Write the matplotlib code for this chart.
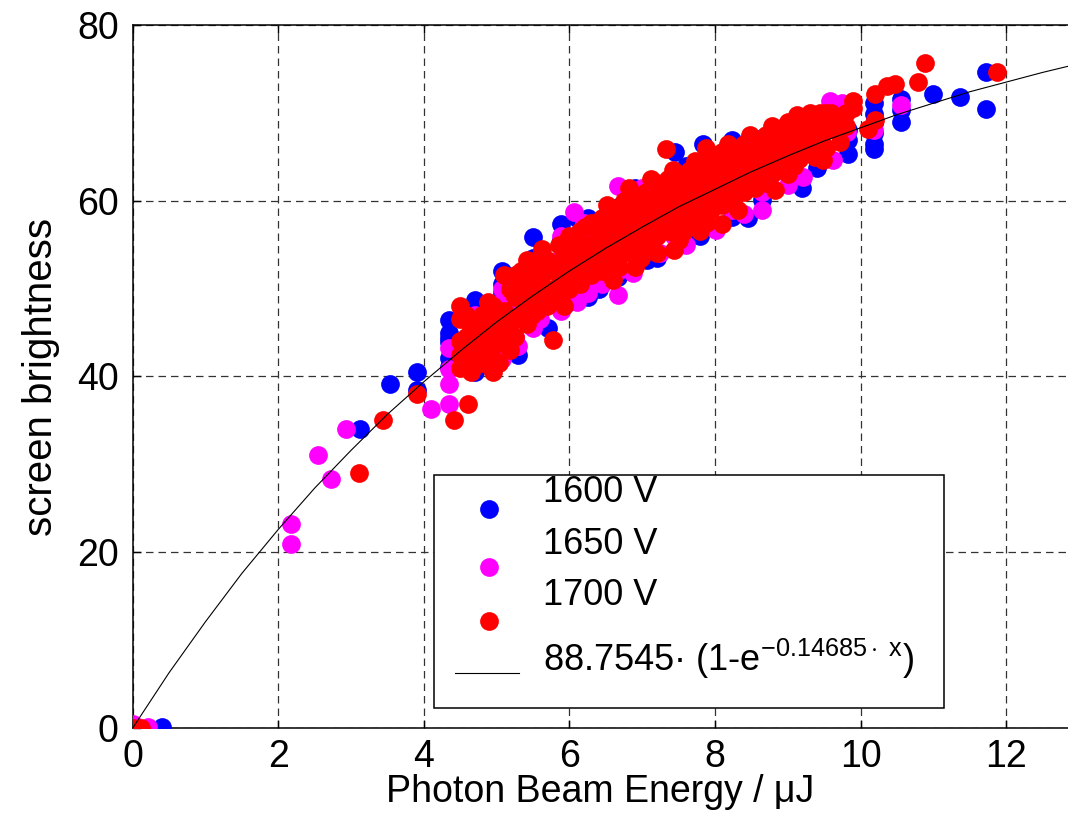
import matplotlib
matplotlib.use("Agg")
import matplotlib.pyplot as plt
from matplotlib.patches import Rectangle

plt.rcParams['font.family'] = ['Liberation Sans', 'DejaVu Sans']
plt.rcParams['mathtext.fontset'] = 'custom'
plt.rcParams['mathtext.rm'] = 'Liberation Sans'
plt.rcParams['mathtext.it'] = 'Liberation Sans'
plt.rcParams['mathtext.bf'] = 'Liberation Sans'

# 1600 V
blue_x = [0.40, 3.12, 3.53, 3.90, 3.90,
          4.34, 4.34, 4.34, 4.34, 4.34, 4.34,
          4.70, 4.70, 4.70, 4.70, 4.70, 4.70, 4.70,
          5.07, 5.07, 5.07, 5.07, 5.07, 5.07,
          5.50, 5.50, 5.50, 5.50, 5.50,
          5.88, 5.88, 5.88, 5.88, 5.88,
          6.26, 6.26, 6.26, 6.26,
          6.67, 6.67, 6.67, 6.67,
          7.06, 7.06, 7.06, 7.06,
          7.45, 7.45, 7.45, 7.45,
          7.84, 7.84, 7.84,
          8.23, 8.23, 8.23,
          8.64, 8.64, 8.64, 8.64,
          9.03, 9.03, 9.03,
          9.40, 9.40,
          9.83, 9.83, 9.83,
          10.19, 10.19, 10.19, 10.19, 10.19, 10.19,
          10.56, 10.56, 10.56,
          10.99, 11.36, 11.72, 11.72,
          5.30, 5.70, 6.00, 6.40, 7.20, 7.80, 8.45, 9.20,
          5.50, 6.10, 6.90, 7.60, 8.40, 9.20]
blue_y = [0.1, 34.0, 39.1, 40.5, 38.5,
          46.4, 44.9, 44.4, 43.9, 42.1, 41.1,
          48.7, 47.6, 46.4, 45.3, 44.1, 41.5, 40.5,
          52.0, 50.5, 49.5, 47.5, 45.0, 43.0,
          55.9, 53.0, 50.5, 48.0, 46.0,
          57.4, 55.5, 53.0, 51.0, 49.5,
          58.0, 55.5, 52.5, 49.1,
          59.3, 57.0, 54.0, 51.3,
          61.0, 58.0, 55.5, 53.2,
          65.6, 63.2, 60.0, 57.5,
          66.4, 62.5, 60.0,
          66.9, 63.0, 58.2,
          67.1, 64.0, 61.0, 60.1,
          66.0, 64.0, 62.3,
          67.0, 63.7,
          68.0, 66.9, 65.3,
          71.1, 69.9, 68.8, 67.7, 66.5, 65.9,
          71.6, 70.3, 69.0,
          72.2, 71.8, 74.7, 70.4,
          42.5, 45.5, 48.5, 50.0, 53.5, 56.0, 58.0, 61.5,
          53.5, 58.0, 61.5, 64.0, 66.5, 68.0]

# 1650 V
magenta_x = [0.01, 0.21, 2.17, 2.17, 2.55, 2.73, 2.93, 4.10,
             4.34, 4.34, 4.34, 4.34,
             4.70, 4.70, 4.70,
             5.07, 5.07, 5.07, 5.07, 5.07, 5.07,
             5.25, 5.25, 5.25,
             5.50, 5.50, 5.50, 5.50,
             5.88, 5.88, 5.88, 5.88, 5.88,
             6.06,
             6.26, 6.26, 6.26, 6.26,
             6.67, 6.67, 6.67, 6.67, 6.67,
             6.87, 7.06, 7.06, 7.06, 7.24,
             7.43, 7.43, 7.43,
             7.84, 7.84, 7.84, 8.02,
             8.23, 8.23,
             8.64, 8.64, 8.64,
             8.98, 9.03, 9.21,
             9.62, 9.62, 9.74, 9.81, 10.19, 10.56,
             4.95, 4.95, 5.15, 5.15, 5.15, 5.30, 5.60, 5.60, 6.10, 6.45,
             7.60, 8.40, 9.00, 6.20, 7.00, 8.00, 8.90, 9.40, 9.58]
magenta_y = [0.5, 0.15, 23.2, 20.9, 31.1, 28.3, 34.0, 36.3,
             43.2, 40.9, 39.2, 36.9,
             47.0, 44.0, 42.5,
             50.0, 48.5, 47.0, 45.5, 44.0, 42.0,
             49.0, 46.5, 44.5,
             51.5, 49.5, 47.5, 45.5,
             56.0, 53.5, 51.0, 49.0, 47.5,
             58.7,
             56.5, 53.5, 51.0, 49.5,
             61.7, 58.0, 55.5, 52.0, 49.3,
             51.8, 60.0, 57.0, 54.5, 54.0,
             62.5, 59.5, 56.0,
             64.0, 60.5, 58.0, 56.7,
             62.5, 59.0,
             65.0, 61.0, 58.9,
             68.6, 64.5, 62.7,
             68.5, 64.6, 71.1, 67.8, 68.0, 70.9,
             45.0, 47.5, 46.0, 48.0, 50.5, 43.5, 46.5, 48.5, 48.5, 50.5,
             55.0, 58.5, 61.8, 57.5, 61.5, 64.5, 67.5, 69.5, 71.4]

# 1700 V
red_x = [0.01, 0.12, 3.11, 3.44, 3.91, 4.41, 4.61,
         4.50, 4.50, 4.50, 4.50, 4.50,
         4.65, 4.65, 4.65, 4.65,
         4.80, 4.80, 4.80, 4.80,
         4.95, 4.95, 4.95, 4.95, 4.95,
         5.10, 5.10, 5.10, 5.10,
         5.25, 5.25, 5.25, 5.25,
         5.41, 5.41, 5.41, 5.41,
         5.55, 5.55, 5.55, 5.55,
         5.69, 5.69, 5.69, 5.69, 5.78,
         5.85, 5.85, 5.85, 5.85,
         6.00, 6.00, 6.00, 6.00,
         6.15, 6.15, 6.15, 6.15,
         6.30, 6.30, 6.30, 6.30,
         6.45, 6.45, 6.45, 6.45,
         6.60, 6.60, 6.60, 6.60, 6.60,
         6.75, 6.75, 6.75, 6.75,
         6.90, 6.90, 6.90, 6.90, 6.90,
         7.05, 7.05, 7.05, 7.05,
         7.20, 7.20, 7.20, 7.20, 7.20,
         7.33, 7.35, 7.35, 7.35, 7.35, 7.43,
         7.50, 7.50, 7.50, 7.50, 7.50,
         7.65, 7.65, 7.65, 7.65,
         7.80, 7.80, 7.80, 7.80, 7.80,
         7.95, 7.95, 7.95, 7.95,
         8.10, 8.10, 8.10, 8.10, 8.10,
         8.25, 8.25, 8.25, 8.25,
         8.40, 8.40, 8.40, 8.40,
         8.55, 8.55, 8.55, 8.55,
         8.70, 8.70, 8.70, 8.70,
         8.82, 8.82, 8.82, 8.91,
         9.00, 9.00, 9.00, 9.00,
         9.12, 9.15, 9.15, 9.15,
         9.30, 9.30, 9.30,
         9.44, 9.45, 9.45, 9.49,
         9.60, 9.60, 9.72,
         9.90, 9.90, 10.10, 10.20, 10.20,
         10.36, 10.47, 10.79, 10.88, 11.88,
         4.58, 4.58, 4.58, 4.72, 4.72, 4.88, 4.88, 4.88,
         5.03, 5.03, 5.03, 5.18, 5.18, 5.18, 5.33, 5.33, 5.33,
         5.48, 5.48, 5.48, 5.62, 5.62, 5.62, 5.92, 5.92, 5.92,
         6.08, 6.08, 6.08, 6.22, 6.22, 6.22, 6.38, 6.38, 6.38,
         6.52, 6.52, 6.52, 6.52, 6.68, 6.68, 6.68,
         6.82, 6.82, 6.82, 6.82, 6.98, 6.98, 6.98, 6.98,
         7.12, 7.12, 7.12, 7.12, 7.28, 7.28, 7.28,
         7.42, 7.42, 7.42, 7.42, 7.58, 7.58, 7.58, 7.58,
         7.72, 7.72, 7.72, 7.72, 7.88, 7.88, 7.88, 7.88, 7.88,
         8.02, 8.02, 8.02, 8.18, 8.18, 8.18, 8.18,
         8.32, 8.32, 8.32, 8.32, 8.48, 8.48, 8.48, 8.48,
         8.62, 8.62, 8.62, 8.78, 8.78, 8.78, 8.78,
         8.92, 8.92, 8.92, 9.08, 9.08, 9.08,
         9.22, 9.22, 9.22, 9.38, 9.38, 9.38,
         9.52, 9.52, 9.52, 9.68, 9.68, 9.80, 9.80]
red_y = [0.0, 0.0, 29.0, 35.1, 38.0, 35.1, 36.9,
         48.0, 46.5, 44.0, 42.5, 41.0,
         45.5, 43.0, 41.5, 40.5,
         47.0, 44.5, 42.0, 41.5,
         48.0, 45.0, 43.5, 42.0, 40.5,
         51.5, 47.5, 45.5, 44.0,
         51.5, 49.0, 46.5, 44.5,
         53.3, 50.5, 48.0, 46.0,
         53.3, 51.0, 49.0, 47.5,
         53.3, 52.0, 50.0, 48.0, 44.2,
         55.0, 52.5, 50.5, 49.0,
         56.0, 53.5, 51.5, 50.0,
         56.5, 54.5, 52.5, 50.5,
         57.5, 55.0, 53.0, 51.5,
         58.0, 56.0, 54.0, 52.0,
         59.0, 57.0, 55.0, 53.0, 51.0,
         60.0, 58.0, 56.0, 54.0,
         60.5, 58.5, 56.5, 54.5, 52.5,
         61.0, 59.0, 57.0, 55.0,
         62.0, 60.0, 58.0, 56.0, 54.0,
         65.9, 62.5, 60.5, 58.5, 56.5, 54.4,
         63.0, 61.0, 59.5, 57.5, 55.5,
         63.5, 62.0, 60.0, 58.0,
         64.5, 62.5, 60.5, 58.5, 56.5,
         65.0, 63.0, 61.0, 59.0,
         65.5, 63.5, 61.5, 59.5, 57.3,
         66.0, 64.0, 62.0, 60.0,
         66.5, 64.5, 63.0, 61.0,
         67.0, 65.0, 63.5, 61.5,
         67.5, 65.5, 64.0, 62.0,
         68.0, 66.0, 61.2, 67.6,
         69.0, 67.0, 65.0, 63.0,
         69.7, 67.5, 66.0, 64.8,
         70.0, 68.0, 66.5,
         70.0, 68.5, 67.0, 64.6,
         70.0, 69.0, 66.7,
         71.4, 70.5, 68.2, 72.2, 69.2,
         73.0, 73.3, 73.5, 75.7, 74.7,
         47.0, 44.5, 42.0, 46.0, 43.5, 48.5, 46.0, 43.0,
         47.0, 44.5, 41.5, 50.0, 46.0, 43.0, 52.0, 49.5, 47.0,
         52.0, 50.0, 47.0, 54.5, 51.5, 49.5, 54.0, 51.5, 48.0,
         55.5, 53.0, 50.5, 57.0, 55.0, 51.5, 56.5, 54.0, 52.5,
         59.5, 57.0, 55.0, 53.0, 58.0, 56.0, 52.5,
         61.5, 59.0, 57.0, 55.0, 60.0, 57.5, 55.5, 53.5,
         62.5, 60.5, 58.5, 56.5, 61.5, 59.0, 57.0,
         63.5, 61.5, 59.5, 57.5, 62.5, 60.5, 58.5, 56.5,
         64.5, 63.0, 61.0, 59.0, 66.0, 63.5, 61.5, 59.5, 57.5,
         64.5, 62.5, 60.5, 66.5, 64.5, 62.5, 60.5,
         65.5, 63.0, 61.5, 59.0, 67.5, 65.5, 63.5, 62.0,
         66.5, 64.5, 62.5, 68.5, 66.5, 64.5, 63.0,
         67.0, 65.5, 63.5, 68.5, 66.0, 64.0,
         69.5, 67.5, 65.5, 69.0, 67.0, 65.0,
         70.0, 68.0, 66.0, 69.5, 68.0, 70.0, 68.5]

# fitted curve
fit_x = [0, 0.5, 1, 1.5, 2, 2.5, 3, 3.5, 4, 4.5, 5, 5.5, 6, 6.5, 7, 7.5,
         8, 8.5, 9, 9.5, 10, 10.5, 11, 11.5, 12, 12.5, 12.9]
fit_y = [0, 6.3, 12.1, 17.6, 22.6, 27.3, 31.6, 35.7, 39.4, 42.9, 46.2, 49.2,
         52.0, 54.6, 57.0, 59.3, 61.3, 63.3, 65.1, 66.8, 68.3, 69.8, 71.1,
         72.4, 73.5, 74.6, 75.4]

fig = plt.figure(figsize=(10.68, 8.14), dpi=100)
ax = fig.add_axes([0.1243, 0.1057, 0.8757, 0.8636])

ms = 13.5
ax.plot(blue_x, blue_y, 'o', color='#0000ff', ms=ms, mew=0, zorder=3)
ax.plot(magenta_x, magenta_y, 'o', color='#ff00ff', ms=ms, mew=0, zorder=3)
ax.plot(red_x, red_y, 'o', color='#ff0000', ms=ms, mew=0, zorder=3)
ax.plot(fit_x, fit_y, color='black', lw=0.8, zorder=4)

ax.set_xlim(0, 12.85)
ax.set_ylim(0, 80)
ax.set_xticks([0, 2, 4, 6, 8, 10, 12])
ax.set_yticks([0, 20, 40, 60, 80])
ax.grid(True, color='#333333', ls=(0, (6, 4)), lw=0.9)
ax.tick_params(direction='in', length=6, width=1, labelsize=27, top=True,
               pad=10)
ax.tick_params(axis='x', pad=8)
for s in ['left', 'bottom', 'top']:
    ax.spines[s].set_linewidth(1.1)
ax.spines['right'].set_visible(False)

ax.set_xlabel('Photon Beam Energy / \u03bcJ', fontsize=27, labelpad=-1)
ax.set_ylabel('screen brightness', fontsize=29, labelpad=12)

# legend box (drawn by hand, MATLAB style)
ax.add_patch(Rectangle((0.3225, 0.0284), 0.5445, 0.3316, transform=ax.transAxes,
                       facecolor='white', edgecolor='black', lw=1.1, zorder=5,
                       clip_on=False))
mk_y = [0.3115, 0.2295, 0.152]
txt_y = [0.3345, 0.2615, 0.1885]
names = ['1600 V', '1650 V', '1700 V']
cols = ['#0000ff', '#ff00ff', '#ff0000']
for my, ty, nm, c in zip(mk_y, txt_y, names, cols):
    ax.plot([0.381], [my], 'o', color=c, ms=ms, mew=0, transform=ax.transAxes,
            zorder=6, clip_on=False)
    ax.text(0.4384, ty, nm, transform=ax.transAxes, fontsize=26, va='center',
            zorder=6)
ax.plot([0.3447, 0.4131], [0.0787, 0.0787], color='black', lw=0.8,
        transform=ax.transAxes, zorder=6)
ax.text(0.4384, 0.098, '88.7545\u00b7 (1-e$^{-0.14685\\cdot\\ x}$)',
        transform=ax.transAxes, fontsize=26, va='center', zorder=6)

fig.savefig('out.png', dpi=100)
